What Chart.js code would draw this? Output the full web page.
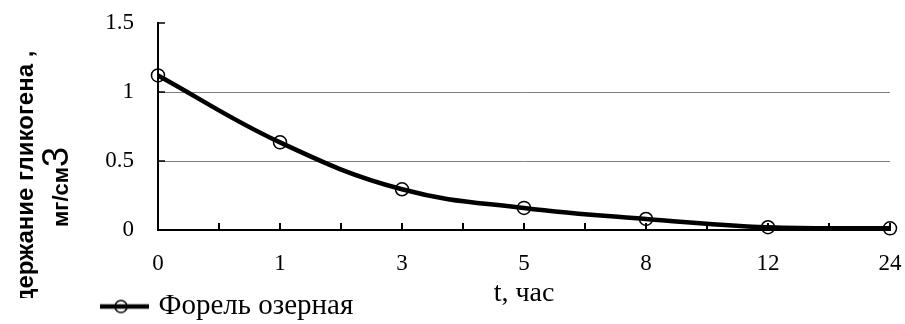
<!DOCTYPE html>
<html>
<head>
<meta charset="utf-8">
<script src="https://cdn.jsdelivr.net/npm/chart.js@4.4.0/dist/chart.umd.min.js"></script>
<style>
  html, body { margin: 0; padding: 0; background: #fff; }
  #wrap { width: 905px; height: 324px; position: relative; }
</style>
</head>
<body>
<div id="wrap"><canvas id="graph-canvas"></canvas></div>
<script>
// time points (hours) and glycogen content
const hours = ['0', '1', '3', '5', '8', '12', '24'];
const glycogen = [1.12, 0.635, 0.295, 0.16, 0.08, 0.02, 0.012];
const yTicks = [0, 0.5, 1, 1.5];
const seriesName = 'Форель озерная';
const xTitle = 't, час';
const yTitleLine1 = 'Содержание гликогена ,';
const yTitleUnit = 'мг/см';
const yTitlePower = '3';

const serif = "'Liberation Serif', 'Times New Roman', serif";
const sans = "'Liberation Sans', Arial, sans-serif";

// little picture for the legend: thick line with an open circle on it
function legendIcon() {
  let c = document.createElement('canvas');
  c.width = 54;
  c.height = 16;
  let g = c.getContext('2d');
  g.strokeStyle = '#000';
  g.lineWidth = 4.5;
  g.beginPath();
  g.moveTo(0, 8);
  g.lineTo(54, 8);
  g.stroke();
  g.lineWidth = 1.5;
  g.beginPath();
  g.arc(26, 8, 6, 0, Math.PI * 2);
  g.stroke();
  return c;
}

// short tick marks drawn inward from both axes
const innerTicks = {
  id: 'innerTicks',
  beforeDatasetsDraw(chart) {
    const {ctx, chartArea, scales: {x, y}} = chart;
    ctx.save();
    ctx.strokeStyle = '#000';
    ctx.lineWidth = 2;
    ctx.beginPath();
    for (let i = 0; i < hours.length; i++) {
      let px = x.getPixelForValue(i);
      if (i > 0) {
        ctx.moveTo(px, chartArea.bottom);
        ctx.lineTo(px, chartArea.bottom - 7);
      }
      if (i < hours.length - 1) {
        let mid = (px + x.getPixelForValue(i + 1)) / 2;
        ctx.moveTo(mid, chartArea.bottom);
        ctx.lineTo(mid, chartArea.bottom - 7);
      }
    }
    ctx.stroke();
    ctx.lineWidth = 1.5;
    ctx.beginPath();
    yTicks.forEach(v => {
      if (v === 0) return;
      let py = y.getPixelForValue(v);
      ctx.moveTo(chartArea.left, py);
      ctx.lineTo(chartArea.left + 7, py);
    });
    ctx.stroke();
    ctx.restore();
  }
};

// rotated y title, the unit has a large "3"
const yTitle = {
  id: 'yTitle',
  afterDraw(chart) {
    const ctx = chart.ctx;
    ctx.save();
    ctx.fillStyle = '#000';
    ctx.textBaseline = 'alphabetic';

    // the first line is cut off at the bottom of its box
    ctx.save();
    ctx.beginPath();
    ctx.rect(0, 0, 50, 298);
    ctx.clip();
    ctx.translate(33, 193);
    ctx.rotate(-Math.PI / 2);
    ctx.font = 'bold 24px ' + sans;
    ctx.textAlign = 'center';
    ctx.fillText(yTitleLine1, 0, 0);
    ctx.restore();

    ctx.save();
    ctx.translate(68, 187);
    ctx.rotate(-Math.PI / 2);
    ctx.textAlign = 'left';
    ctx.font = 'bold 22px ' + sans;
    let w1 = ctx.measureText(yTitleUnit).width;
    ctx.font = '36px ' + sans;
    let w2 = ctx.measureText(yTitlePower).width;
    let start = -(w1 + w2) / 2;
    ctx.font = 'bold 22px ' + sans;
    ctx.fillText(yTitleUnit, start, 0);
    ctx.font = '36px ' + sans;
    ctx.fillText(yTitlePower, start + w1, 0);
    ctx.restore();

    ctx.restore();
  }
};

let chartdata = {
  labels: hours,
  datasets: [
    {
      label: seriesName,
      data: glycogen,
      borderColor: '#000',
      borderWidth: 4.5,
      tension: 0.4,
      pointStyle: 'circle',
      pointRadius: 6.5,
      pointHoverRadius: 6.5,
      pointBorderWidth: 1.5,
      pointBorderColor: '#000',
      pointBackgroundColor: 'rgba(0,0,0,0)',
      fill: false,
      clip: false
    }
  ]
};

let graphTarget = document.getElementById('graph-canvas');
let lineGraph = new Chart(graphTarget, {
  type: 'line',
  data: chartdata,
  plugins: [innerTicks, yTitle],
  options: {
    responsive: true,
    maintainAspectRatio: false,
    animation: false,
    layout: {
      padding: { left: 100, right: 15, top: 23, bottom: -7 }
    },
    plugins: {
      tooltip: { enabled: false },
      legend: {
        position: 'bottom',
        align: 'start',
        labels: {
          usePointStyle: true,
          pointStyle: legendIcon(),
          pointStyleWidth: 44,
          padding: 0,
          color: '#000',
          font: { family: serif, size: 29 }
        }
      }
    },
    scales: {
      x: {
        offset: false,
        // invisible tick marks only push the labels down
        grid: { display: true, drawOnChartArea: false, drawTicks: true, tickLength: 20, tickColor: 'rgba(0,0,0,0)' },
        border: { display: true, color: '#000', width: 2 },
        ticks: {
          color: '#000',
          padding: 0,
          maxRotation: 0,
          autoSkip: false,
          font: { family: serif, size: 23 }
        },
        title: {
          display: true,
          text: xTitle,
          color: '#000',
          font: { family: serif, size: 28 },
          padding: { top: 0, bottom: -18 }
        },
        afterFit(scale) { scale.height = 62; }
      },
      y: {
        min: 0,
        max: 1.5,
        afterBuildTicks(scale) {
          scale.ticks = yTicks.map(v => ({ value: v }));
        },
        grid: {
          drawTicks: true,
          tickLength: 24,
          tickColor: 'rgba(0,0,0,0)',
          lineWidth: 1,
          color: (c) => (c.tick && (c.tick.value === 0.5 || c.tick.value === 1)) ? '#7f7f7f' : 'rgba(0,0,0,0)'
        },
        border: { display: true, color: '#000', width: 2 },
        ticks: {
          color: '#000',
          padding: 0,
          font: { family: serif, size: 23 },
          callback: (value) => String(value)
        },
        afterFit(scale) { scale.width = 58; }
      }
    }
  }
});
</script>
</body>
</html>
